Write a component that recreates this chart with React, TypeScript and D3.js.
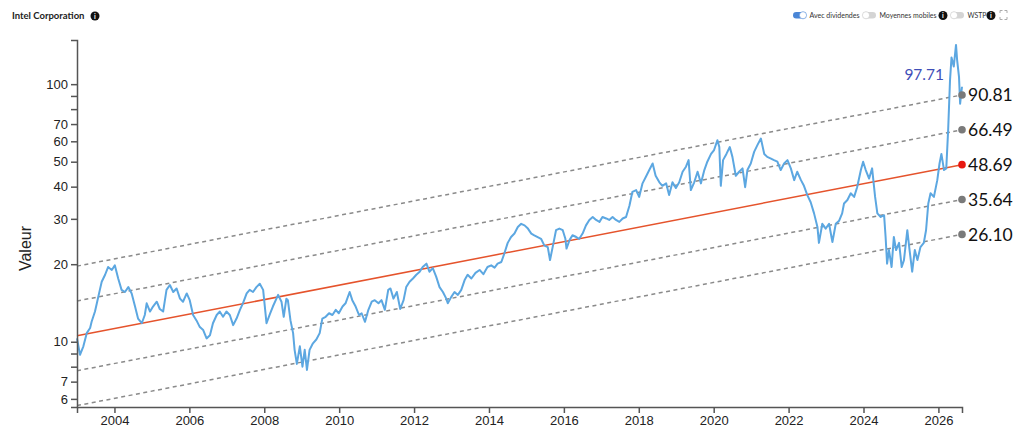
import * as D3 from 'd3'
import { useEffect, useRef } from 'react'

// decimal years and values
const YEARS = [
  2003.0, 2003.08, 2003.17, 2003.26, 2003.35, 2003.39, 2003.48, 2003.53, 2003.61, 2003.66,
  2003.75, 2003.83, 2003.93, 2004.01, 2004.1, 2004.19, 2004.28, 2004.37, 2004.46, 2004.55,
  2004.63, 2004.73, 2004.81, 2004.86, 2004.95, 2005.03, 2005.13, 2005.21, 2005.3, 2005.39,
  2005.48, 2005.57, 2005.66, 2005.75, 2005.83, 2005.93, 2006.01, 2006.1, 2006.19, 2006.28,
  2006.37, 2006.46, 2006.55, 2006.63, 2006.73, 2006.81, 2006.9, 2006.99, 2007.08, 2007.17,
  2007.26, 2007.35, 2007.43, 2007.53, 2007.61, 2007.7, 2007.79, 2007.88, 2007.97, 2008.06,
  2008.15, 2008.23, 2008.37, 2008.46, 2008.52, 2008.59, 2008.63, 2008.7, 2008.77, 2008.81,
  2008.87, 2008.95, 2009.02, 2009.08, 2009.14, 2009.21, 2009.3, 2009.39, 2009.48, 2009.55,
  2009.64, 2009.73, 2009.82, 2009.91, 2009.99, 2010.09, 2010.17, 2010.28, 2010.35, 2010.44,
  2010.53, 2010.6, 2010.69, 2010.78, 2010.87, 2010.95, 2011.05, 2011.13, 2011.22, 2011.31,
  2011.37, 2011.45, 2011.54, 2011.63, 2011.72, 2011.79, 2011.88, 2011.97, 2012.06, 2012.15,
  2012.23, 2012.33, 2012.41, 2012.5, 2012.59, 2012.68, 2012.77, 2012.86, 2012.9, 2012.99,
  2013.08, 2013.17, 2013.26, 2013.35, 2013.43, 2013.53, 2013.64, 2013.75, 2013.85, 2013.96,
  2014.06, 2014.15, 2014.23, 2014.33, 2014.41, 2014.5, 2014.59, 2014.68, 2014.77, 2014.86,
  2014.95, 2015.04, 2015.13, 2015.21, 2015.3, 2015.39, 2015.48, 2015.57, 2015.63, 2015.7,
  2015.79, 2015.88, 2015.97, 2016.04, 2016.07, 2016.15, 2016.23, 2016.33, 2016.41, 2016.5,
  2016.59, 2016.68, 2016.77, 2016.86, 2016.95, 2017.03, 2017.13, 2017.21, 2017.3, 2017.39,
  2017.48, 2017.57, 2017.66, 2017.75, 2017.83, 2017.93, 2018.01, 2018.1, 2018.19, 2018.28,
  2018.37, 2018.45, 2018.55, 2018.63, 2018.73, 2018.81, 2018.9, 2018.99, 2019.08, 2019.17,
  2019.26, 2019.33, 2019.39, 2019.48, 2019.57, 2019.66, 2019.75, 2019.83, 2019.93, 2020.01,
  2020.1, 2020.15, 2020.19, 2020.25, 2020.34, 2020.43, 2020.5, 2020.59, 2020.68, 2020.77,
  2020.84, 2020.9, 2020.99, 2021.08, 2021.17, 2021.26, 2021.35, 2021.43, 2021.53, 2021.61,
  2021.7, 2021.79, 2021.88, 2021.97, 2022.06, 2022.15, 2022.23, 2022.33, 2022.41, 2022.5,
  2022.59, 2022.68, 2022.77, 2022.81, 2022.9, 2022.99, 2023.08, 2023.17, 2023.26, 2023.35,
  2023.43, 2023.48, 2023.57, 2023.66, 2023.75, 2023.83, 2023.93, 2023.99, 2024.06, 2024.15,
  2024.23, 2024.31, 2024.37, 2024.46, 2024.55, 2024.59, 2024.63, 2024.68, 2024.75, 2024.81,
  2024.87, 2024.95, 2025.02, 2025.08, 2025.17, 2025.23, 2025.3, 2025.37, 2025.44, 2025.52,
  2025.61, 2025.67, 2025.73, 2025.79, 2025.88, 2025.97, 2026.03, 2026.08, 2026.15, 2026.21,
  2026.26, 2026.31, 2026.35, 2026.41, 2026.47, 2026.5, 2026.55, 2026.58, 2026.63,
]

const VALUES = [
  10.3, 8.9, 9.6, 10.8, 11.3, 11.95, 13.1, 14.1, 15.9, 17.1,
  18.2, 19.5, 19.0, 19.8, 17.6, 15.9, 15.6, 16.3, 15.4, 13.7,
  12.3, 11.8, 12.7, 14.1, 13.1, 13.7, 14.3, 13.4, 13.1, 15.9,
  16.6, 15.6, 16.1, 14.7, 14.3, 15.4, 14.5, 12.7, 12.1, 11.4,
  11.1, 10.3, 10.6, 11.8, 12.7, 13.1, 12.5, 13.1, 12.7, 11.6,
  12.3, 13.3, 14.1, 15.4, 15.9, 15.6, 16.3, 16.8, 15.9, 11.8,
  12.8, 13.7, 15.2, 14.3, 12.5, 14.7, 14.5, 12.1, 10.8, 9.3,
  8.2, 9.6, 8.0, 9.3, 7.77, 9.3, 9.86, 10.2, 10.8, 12.3,
  12.5, 12.9, 12.7, 13.3, 12.9, 13.7, 14.1, 15.6, 14.5, 13.7,
  12.7, 12.9, 11.95, 13.3, 14.3, 14.5, 14.1, 14.5, 13.3, 15.9,
  16.1, 14.7, 15.6, 13.4, 14.5, 16.3, 17.1, 17.6, 18.2, 18.7,
  19.5, 20.1, 18.7, 19.3, 17.9, 16.3, 15.6, 14.7, 14.1, 14.9,
  15.6, 15.2, 15.9, 17.35, 18.2, 17.6, 18.5, 19.0, 18.3, 19.5,
  19.8, 19.4, 20.1, 20.4, 22.0, 24.2, 25.5, 26.3, 27.9, 28.7,
  28.3, 27.5, 26.3, 25.9, 25.5, 25.1, 23.6, 23.3, 20.75, 23.3,
  27.1, 27.5, 27.1, 25.1, 23.0, 24.8, 25.9, 25.5, 25.1, 26.3,
  28.3, 29.7, 30.5, 29.7, 29.2, 30.5, 30.1, 29.7, 30.5, 29.7,
  29.2, 30.1, 30.5, 33.7, 38.2, 38.8, 36.5, 41.2, 43.7, 46.4,
  49.2, 44.1, 41.6, 40.3, 41.2, 37.1, 41.6, 39.5, 41.6, 45.7,
  47.8, 50.7, 38.8, 41.6, 45.7, 41.2, 46.4, 50.0, 53.6, 55.5,
  60.6, 57.0, 40.3, 50.7, 53.6, 57.0, 52.2, 44.1, 45.7, 47.1,
  39.8, 46.4, 49.2, 54.6, 58.1, 61.5, 53.6, 52.2, 51.4, 50.7,
  50.0, 46.4, 49.2, 50.7, 47.1, 42.4, 45.7, 42.4, 40.3, 37.1,
  34.8, 31.5, 27.9, 24.2, 28.7, 27.5, 28.7, 24.4, 28.7, 29.5,
  31.5, 34.4, 35.5, 37.7, 36.5, 39.8, 46.4, 50.0, 46.4, 43.0,
  47.1, 36.5, 31.5, 30.5, 31.0, 25.5, 20.1, 22.7, 19.5, 25.5,
  22.7, 24.2, 19.5, 20.75, 27.1, 22.7, 18.7, 22.7, 20.75, 23.3,
  24.2, 27.1, 34.4, 37.7, 36.5, 42.4, 49.2, 53.6, 46.4, 47.1,
  66.3, 103.7, 127, 117, 142, 124, 106.7, 84, 97.71,
]

// regression channel: end values shown at the right, start of the centre line
const LEVEL_END = [90.81, 66.49, 48.69, 35.64, 26.1]
const TREND_END = 48.69
const TREND_START = 10.54

const X_TICKS = [2004, 2006, 2008, 2010, 2012, 2014, 2016, 2018, 2020, 2022, 2024, 2026]
const Y_TICKS = [6, 7, 8, 9, 10, 20, 30, 40, 50, 60, 70, 80, 90, 100]
const Y_LABELED = [6, 7, 10, 20, 30, 40, 50, 60, 70, 100]

const TITLE = 'Intel Corporation'
const TOGGLE_LABELS = ['Avec dividendes', 'Moyennes mobiles', 'WSTP']
const TOGGLE_ON = [true, false, false]
const TOGGLE_INFO = [false, true, true]

export default function App() {
  const ref = useRef<HTMLDivElement>(null)

  useEffect(() => {
    const width = 1024
    const height = 434
    const marginTop = 40
    const marginRight = 62
    const marginBottom = 27
    const marginLeft = 77

    const x = D3.scaleLinear()
      .domain([2003, YEARS[YEARS.length - 1]])
      .range([marginLeft, width - marginRight])
    const y = D3.scaleLog()
      .domain([5.58, 148.4])
      .range([height - marginBottom, marginTop])

    const svg = D3.create('svg')
      .attr('width', width)
      .attr('height', height)
      .attr('viewBox', [0, 0, width, height])
      .attr('style', 'position:absolute; left:0; top:0; background:#fff;')

    /* header */
    svg.append('text')
      .attr('x', 12)
      .attr('y', 19)
      .attr('font-family', 'Lato')
      .attr('font-weight', 700)
      .attr('font-size', 9.5)
      .attr('fill', '#222')
      .text(TITLE)

    const info = (cx: number, cy: number) => {
      svg.append('circle').attr('cx', cx).attr('cy', cy).attr('r', 4.5).attr('fill', '#111')
      svg.append('text')
        .attr('x', cx)
        .attr('y', cy + 2.6)
        .attr('text-anchor', 'middle')
        .attr('font-family', 'Lato')
        .attr('font-weight', 700)
        .attr('font-size', 7)
        .attr('fill', '#fff')
        .text('i')
    }
    info(95, 16)

    /* toggles (fixed slots, the node isn't in the DOM yet so no text measuring) */
    const toggleX = [793, 863, 951]
    const labelW = [50, 57, 19]
    const infoX = [0, 943, 991]
    TOGGLE_LABELS.forEach((label, i) => {
      const tx = toggleX[i]
      const on = TOGGLE_ON[i]
      svg.append('rect')
        .attr('x', tx)
        .attr('y', 12)
        .attr('width', 13)
        .attr('height', 6.5)
        .attr('rx', 3.25)
        .attr('fill', on ? '#4a86d6' : '#d4d4d4')
      svg.append('circle')
        .attr('cx', on ? tx + 10 : tx + 3)
        .attr('cy', 15.25)
        .attr('r', 3.6)
        .attr('fill', '#fff')
        .attr('stroke', on ? '#4a86d6' : '#c4c4c4')
        .attr('stroke-width', 0.6)
      svg.append('text')
        .attr('x', tx + 16.5)
        .attr('y', 18)
        .attr('font-family', 'Lato')
        .attr('font-size', 7.6)
        .attr('textLength', labelW[i])
        .attr('lengthAdjust', 'spacingAndGlyphs')
        .attr('fill', '#333')
        .text(label)
      if (TOGGLE_INFO[i]) info(infoX[i], 15.5)
    })
    // fullscreen glyph
    svg.append('path')
      .attr('d', 'M1000,13v-2.5h2.5 M1004.5,10.5h2.5v2.5 M1007,17v2.5h-2.5 M1002.5,19.5h-2.5v-2.5')
      .attr('fill', 'none')
      .attr('stroke', '#aaa')
      .attr('stroke-width', 1)

    /* regression channel */
    const x0 = x.domain()[0]
    const x1 = x.domain()[1]
    LEVEL_END.forEach((end) => {
      const start = (TREND_START * end) / TREND_END
      const center = end === TREND_END
      svg.append('line')
        .attr('x1', x(x0))
        .attr('y1', y(start))
        .attr('x2', x(x1))
        .attr('y2', y(end))
        .attr('stroke', center ? '#e5532c' : '#8a8a8a')
        .attr('stroke-width', 1.5)
        .attr('stroke-dasharray', center ? null : '4,3.5')
    })

    /* price line */
    const data = YEARS.map((yr, i) => ({ yr, v: VALUES[i] }))
    const line = D3.line<{ yr: number; v: number }>()
      .x((d) => x(d.yr))
      .y((d) => y(d.v))
    svg.append('path')
      .datum(data)
      .attr('fill', 'none')
      .attr('stroke', '#5ca7e1')
      .attr('stroke-width', 2)
      .attr('stroke-linejoin', 'round')
      .attr('d', line)

    /* end dots + labels */
    LEVEL_END.forEach((end) => {
      const center = end === TREND_END
      svg.append('circle')
        .attr('cx', x(x1))
        .attr('cy', y(end))
        .attr('r', 3.8)
        .attr('fill', center ? '#e8180f' : '#7a7a7a')
      svg.append('text')
        .attr('x', x(x1) + 6)
        .attr('y', y(end))
        .attr('dy', '0.36em')
        .attr('font-family', 'Lato')
        .attr('font-size', 17.5)
        .attr('fill', '#111')
        .text(D3.format('.2f')(end))
    })

    const last = data[data.length - 1]
    svg.append('text')
      .attr('x', x(last.yr) - 18)
      .attr('y', y(last.v) - 6.5)
      .attr('text-anchor', 'end')
      .attr('font-family', 'Lato')
      .attr('font-size', 15.5)
      .attr('fill', '#3f4fb8')
      .text(D3.format('.2f')(last.v))

    /* axes */
    const xAxis = svg.append('g')
      .attr('transform', `translate(0,${height - marginBottom})`)
      .call(
        D3.axisBottom(x)
          .tickValues(X_TICKS)
          .tickFormat((d) => String(d)),
      )
    const yAxis = svg.append('g')
      .attr('transform', `translate(${marginLeft},0)`)
      .call(
        D3.axisLeft(y)
          .tickValues(Y_TICKS)
          .tickFormat((d) => (Y_LABELED.includes(+d) ? String(d) : '')),
      )
    ;[xAxis, yAxis].forEach((g) => {
      g.attr('font-family', 'Liberation Sans, Arial, sans-serif').attr('font-size', 13)
      g.selectAll('path, line').attr('stroke', '#555').attr('stroke-width', 1.5)
      g.selectAll('text').attr('fill', '#222')
    })

    svg.append('text')
      .attr('transform', `translate(31,${(marginTop + height - marginBottom) / 2 + 25}) rotate(-90)`)
      .attr('text-anchor', 'middle')
      .attr('font-family', 'Liberation Sans, Arial, sans-serif')
      .attr('font-size', 16)
      .attr('fill', '#222')
      .text('Valeur')

    const node = svg.node()
    if (ref.current && node) {
      ref.current.innerHTML = ''
      ref.current.appendChild(node)
    }
  }, [])

  return <div ref={ref} />
}
